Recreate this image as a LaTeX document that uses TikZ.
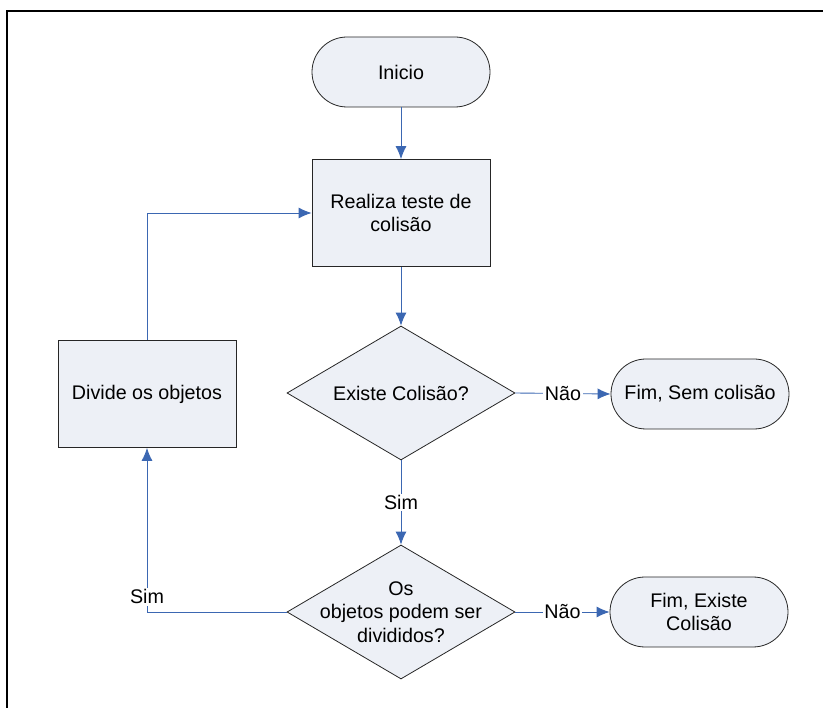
\documentclass[tikz,border=0pt]{standalone}
\usepackage{fontspec}
\setmainfont{Liberation Sans}
\usetikzlibrary{shapes.geometric,arrows.meta}
\definecolor{nodefill}{RGB}{237,240,246}
\definecolor{flow}{RGB}{59,103,178}
\begin{document}
\begin{tikzpicture}[x=1pt,y=-1pt,
  base/.style={draw=black!85, line width=0.8pt, fill=nodefill,
    font=\fontsize{19.7}{23.5}\selectfont, align=center, inner sep=0pt},
  term/.style={base, rounded corners=35pt, minimum width=178pt, minimum height=70pt},
  proc/.style={base, minimum width=178pt, minimum height=107pt},
  dec/.style={base, diamond, aspect=1.7, minimum width=228pt, minimum height=134pt},
  txt/.style={font=\fontsize{19.7}{23.5}\selectfont, align=center, inner sep=0pt},
  arr/.style={draw=flow, line width=0.9pt, -{Latex[length=13pt,width=11pt]}},
  lab/.style={fill=white, inner sep=1.5pt, font=\fontsize{19.7}{23.5}\selectfont}]
\useasboundingbox (0,0) rectangle (823,708);
\draw[line width=2pt] (7,760) -- (7,11) -- (860,11);

\node[term] (ini) at (401,72) {Inicio};
\node[proc] (tes) at (401,213) {Realiza teste de\\colisão};
\node[dec] (d1) at (401,393) {Existe Colisão?};
\node[term] (fsc) at (700,394) {Fim, Sem colisão};
\node[dec] (d2) at (401,612) {};
\node[txt] (d2t) at (d2.center) {Os\\objetos podem ser\\divididos?};
\node[term] (fec) at (699,612) {Fim, Existe\\Colisão};
\node[proc] (div) at (147,394) {Divide os objetos};

\draw[arr] (ini) -- (tes);
\draw[arr] (tes) -- (d1);
\draw[arr] (d1.east) -- node[lab]{Não} (fsc.west);
\draw[arr] (d1.south) -- node[lab]{Sim} (d2.north);
\draw[arr] (d2.east) -- node[lab]{Não} (fec.west);
\draw[arr] (d2.west) -| node[lab, pos=0.546]{Sim} (div.south);
\draw[arr] (div.north) |- (tes.west);
\end{tikzpicture}
\end{document}
